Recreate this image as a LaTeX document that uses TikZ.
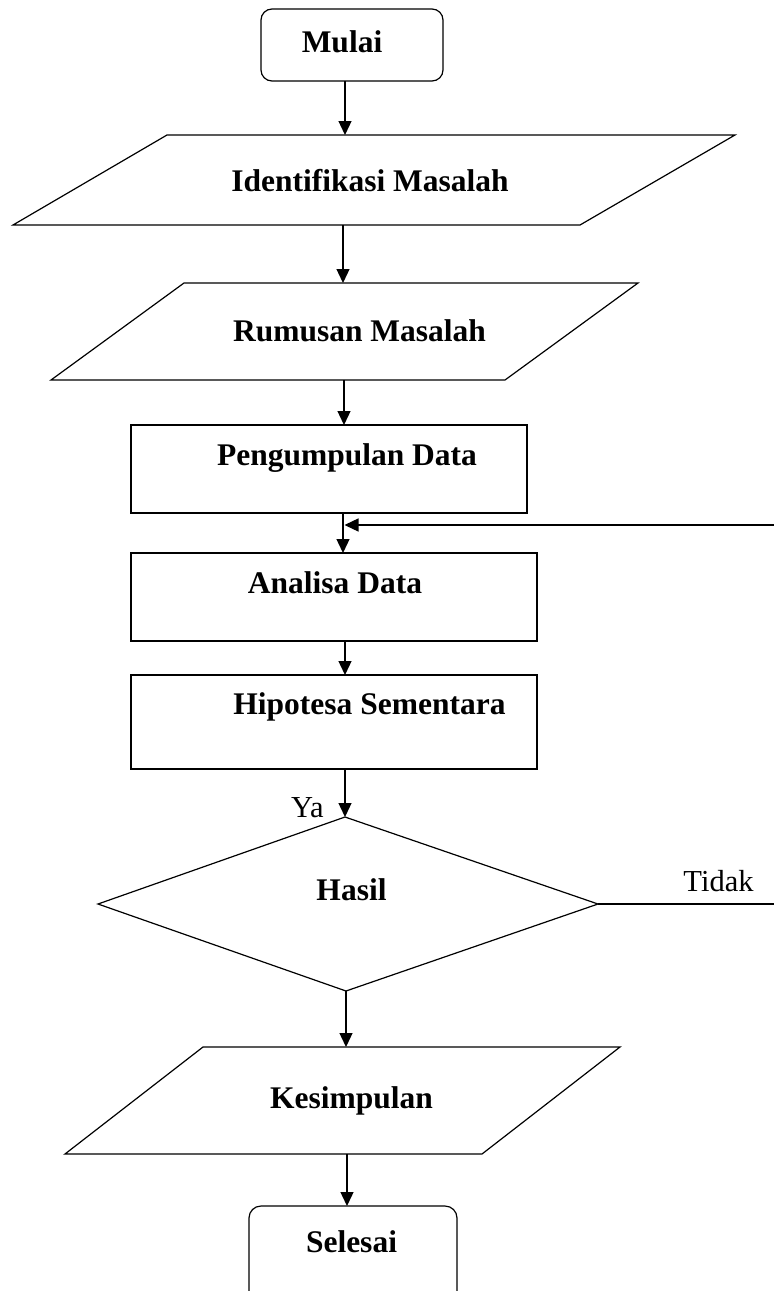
\documentclass[tikz,border=0pt]{standalone}
\usepackage{fontspec}
\setmainfont{Liberation Serif}
\usetikzlibrary{arrows.meta}
\tikzset{
  shapeline/.style={draw=black, line width=1.2pt, line join=miter},
  flowarrow/.style={draw=black, line width=1.3pt, -{Triangle[width=13pt,length=14pt]}},
  plainline/.style={draw=black, line width=1.3pt},
  boldlabel/.style={anchor=base, inner sep=0pt, font=\fontsize{31.5}{36}\selectfont\bfseries},
  thinlabel/.style={anchor=base, inner sep=0pt, font=\fontsize{30.5}{35}\selectfont},
}
\begin{document}
\begin{tikzpicture}[x=1pt, y=-1pt]
\useasboundingbox (0,0) rectangle (774,1291);
\clip (0,0) rectangle (774,1291);

% ---- shapes ----
\draw[shapeline, rounded corners=11pt] (261,9) rectangle (443,81);
\draw[shapeline] (167,135) -- (735,135) -- (580,225) -- (13,225) -- cycle;
\draw[shapeline] (184,283) -- (638,283) -- (505,380) -- (51,380) -- cycle;
\draw[shapeline] (131,425) rectangle (527,513);
\draw[shapeline] (131,553) rectangle (537,641);
\draw[shapeline] (131,675) rectangle (537,769);
\draw[shapeline] (345,817) -- (598,904) -- (346,991) -- (98,904) -- cycle;
\draw[shapeline] (203,1047) -- (620,1047) -- (482,1154) -- (65,1154) -- cycle;
\draw[shapeline, rounded corners=12pt] (249,1206) rectangle (457,1320);

% ---- labels ----
\node[boldlabel] (tmulai) at (342,52) {Mulai};
\node[boldlabel] (tident) at (370,191) {Identifikasi Masalah};
\node[boldlabel] (trumus) at (359.5,341) {Rumusan Masalah};
\node[boldlabel] (tpeng) at (347,465) {Pengumpulan Data};
\node[boldlabel] (tanal) at (335,593) {Analisa Data};
\node[boldlabel] (thipo) at (369.5,714) {Hipotesa Sementara};
\node[boldlabel] (thasil) at (351.5,900) {Hasil};
\node[boldlabel] (tkesim) at (351.5,1108) {Kesimpulan};
\node[boldlabel] (tseles) at (351.5,1252) {Selesai};
\node[thinlabel] (tya) at (307.5,817) {Ya};
\node[thinlabel] (ttidak) at (718.5,891) {Tidak};

% ---- connector end points ----
\coordinate (mulaiS) at (345,81);
\coordinate (identN) at (345,135);
\coordinate (identS) at (343,225);
\coordinate (rumusN) at (343,283);
\coordinate (rumusS) at (344,380);
\coordinate (pengN) at (344,425);
\coordinate (pengS) at (343,513);
\coordinate (anaN) at (343,553);
\coordinate (loopIn) at (344.5,525);
\coordinate (loopEdge) at (776,525);
\coordinate (anaS) at (345,641);
\coordinate (hipoN) at (345,675);
\coordinate (hipoS) at (345,769);
\coordinate (hasilN) at (345,817);
\coordinate (hasilE) at (598,904);
\coordinate (tidakEdge) at (776,904);
\coordinate (hasilS) at (346,991);
\coordinate (kesimN) at (346,1047);
\coordinate (kesimS) at (347,1154);
\coordinate (selesN) at (347,1206);

% ---- connectors ----
\draw[flowarrow] (mulaiS) -- (identN);
\draw[flowarrow] (identS) -- (rumusN);
\draw[flowarrow] (rumusS) -- (pengN);
\draw[flowarrow] (pengS) -- (anaN);
\draw[flowarrow] (loopEdge) -- (loopIn);
\draw[flowarrow] (anaS) -- (hipoN);
\draw[flowarrow] (hipoS) -- (hasilN);
\draw[plainline] (hasilE) -- (tidakEdge);
\draw[flowarrow] (hasilS) -- (kesimN);
\draw[flowarrow] (kesimS) -- (selesN);
\end{tikzpicture}
\end{document}
